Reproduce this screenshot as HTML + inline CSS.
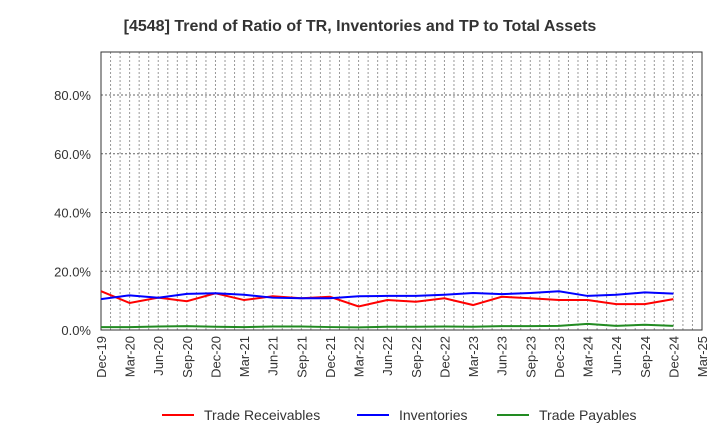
<!DOCTYPE html>
<html><head><meta charset="utf-8"><style>
body{margin:0;background:#fff;font-family:"Liberation Sans",sans-serif}
svg text{font-family:"Liberation Sans",sans-serif}
</style></head><body>
<svg id="c" width="720" height="440"></svg>
<script>
const categories=["Dec-19","Mar-20","Jun-20","Sep-20","Dec-20","Mar-21","Jun-21","Sep-21","Dec-21","Mar-22","Jun-22","Sep-22","Dec-22","Mar-23","Jun-23","Sep-23","Dec-23","Mar-24","Jun-24","Sep-24","Dec-24","Mar-25"];
const tradeReceivables=[13.2,9.2,11,9.8,12.5,10.2,11.5,10.8,11.3,8,10.2,9.6,10.8,8.5,11.3,10.8,10.2,10.2,8.8,8.8,10.5];
const inventories=[10.5,11.8,11,12.3,12.5,12,11,10.8,10.8,11.5,11.6,11.6,12,12.6,12.2,12.6,13.2,11.6,12,12.8,12.4];
const tradePayables=[1,1,1.2,1.3,1.1,1,1.2,1.2,1,0.9,1.1,1.1,1.2,1.1,1.3,1.3,1.4,2.1,1.4,1.8,1.4];
const yTicks=[0,20,40,60,80];
const NS="http://www.w3.org/2000/svg";
const svg=document.getElementById('c');
const X0=101,X1=702,Y0=330,YT=52;
const months=(categories.length-1)*3;
const xm=m=>X0+(X1-X0)*m/months;
const x=i=>xm(i*3);
const y=v=>Y0-(Y0-95)*v/80;
function mk(t,a){const e=document.createElementNS(NS,t);for(const k in a)e.setAttribute(k,a[k]);svg.appendChild(e);return e;}
let t=mk('text',{x:360,y:31,'text-anchor':'middle','font-size':16,'font-weight':'bold',fill:'#333'});


t.textContent='[4548]  Trend of Ratio of TR, Inventories and TP to Total Assets';
for(let m=1;m<months;m++){const l=mk('line',{x1:xm(m),x2:xm(m),y1:YT,y2:Y0,stroke:'#999','stroke-dasharray':'2,2','stroke-width':1});

}
yTicks.forEach(v=>{if(v>0){const l=mk('line',{x1:X0,x2:X1,y1:y(v),y2:y(v),stroke:'#666','stroke-dasharray':'2,2'});

}
const tx=mk('text',{x:91,y:y(v)+5,'text-anchor':'end','font-size':13,fill:'#333'});


tx.textContent=v.toFixed(1)+'%';});
const fr=mk('rect',{x:X0,y:YT,width:X1-X0,height:Y0-YT,fill:'none',stroke:'#333'});


categories.forEach((c,i)=>{const tx=mk('text',{transform:`translate(${x(i)+5},336) rotate(-90)`,'text-anchor':'end','font-size':13,fill:'#333'});


tx.textContent=c;});
[[tradeReceivables,'#f00','trade-receivables-line'],[inventories,'#00f','inventories-line'],[tradePayables,'#228b22','trade-payables-line']].forEach(([d,col,n])=>{
const p=mk('polyline',{points:d.map((v,i)=>x(i)+','+y(v)).join(' '),fill:'none',stroke:col,'stroke-width':2});

});
[['Trade Receivables','#f00',162],['Inventories','#00f',357],['Trade Payables','#228b22',497]].forEach(([lab,col,lx])=>{
const l=mk('line',{x1:lx,x2:lx+32,y1:415,y2:415,stroke:col,'stroke-width':2});


const tx=mk('text',{x:lx+42,y:420,'font-size':14,fill:'#333'});


tx.textContent=lab;});
</script>
</body></html>
